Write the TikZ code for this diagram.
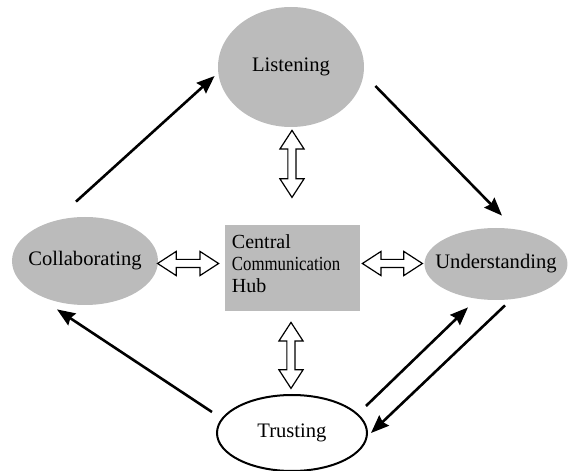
\documentclass[tikz,border=0pt]{standalone}
\usepackage{fontspec}
\setmainfont{Liberation Serif}
\usepackage{graphicx}
\usetikzlibrary{shapes.geometric, shapes.arrows, arrows.meta, calc}
\definecolor{hubGray}{HTML}{BBBBBB}
\tikzset{
    phase/.style={ellipse, fill=hubGray, inner sep=0pt},
    flow/.style={-{Stealth[length=9pt, width=7pt, inset=1pt]}, line width=1.3pt},
    link/.style={double arrow, draw=black, fill=white, line width=0.6pt, inner xsep=0pt, inner ysep=1.75pt,
        double arrow head extend=4pt, double arrow tip angle=66}
}
% name, position, rotation, length
\newcommand{\HubLink}[4]{
    \node[link, minimum height=#4, rotate=#3] (#1) at #2 {};
}

\begin{document}
\begin{tikzpicture}[x=0.5pt, y=-0.5pt, font=\fontsize{10.3}{11}\selectfont]
        \useasboundingbox (0,0) rectangle (570,471);

        % Phases round the cycle
        \node[phase, minimum width=73pt, minimum height=60pt, label=center:Listening] (listen) at (291,67) {};
        \node[phase, minimum width=73pt, minimum height=44pt, label=center:Collaborating] (collab) at (85,261) {};
        \node[phase, minimum width=71.5pt, minimum height=36pt, label=center:Understanding] (under) at (496,264) {};
        \node[phase, fill=white, draw=black, line width=1pt, minimum width=75pt, minimum height=38pt,
              label=center:Trusting] (trust) at (292,433) {};

        % Hub in the middle
        \node[rectangle, fill=hubGray, minimum width=67.5pt, minimum height=43pt, text width=60.5pt,
              inner xsep=3.5pt, align=left, text depth=26.5pt, font=\fontsize{10}{11}\selectfont]
              (hub) at (292.5,268) {Central\\\scalebox{0.84}[1]{Communication}\\Hub};

        % Two-way links to the hub
        \HubLink{linkN}{($(listen.south)+(1,36.5)$)}{90}{33.5pt}
        \HubLink{linkS}{($(hub.south)+(-1.5,44)$)}{90}{33pt}
        \HubLink{linkW}{($(hub.west)+(-36.5,-4.5)$)}{0}{30.5pt}
        \HubLink{linkE}{($(hub.east)+(32,-4.5)$)}{0}{30pt}

        % Cycle arrows
        \draw[flow] ($(collab.north)+(-9,-15)$) -- ($(listen.west)+(-3,9)$);
        \draw[flow] ($(listen.east)+(11,19)$) -- ($(under.north)+(6,-12)$);
        \draw[flow] ($(under.south)+(9,5)$) -- ($(trust.east)+(3,0)$);
        \draw[flow] ($(trust.east)+(-2,-27)$) -- ($(under.south)+(-28,7)$);
        \draw[flow] ($(trust.west)+(-4,-21)$) -- ($(collab.south)+(-28,4)$);
\end{tikzpicture}
\end{document}
